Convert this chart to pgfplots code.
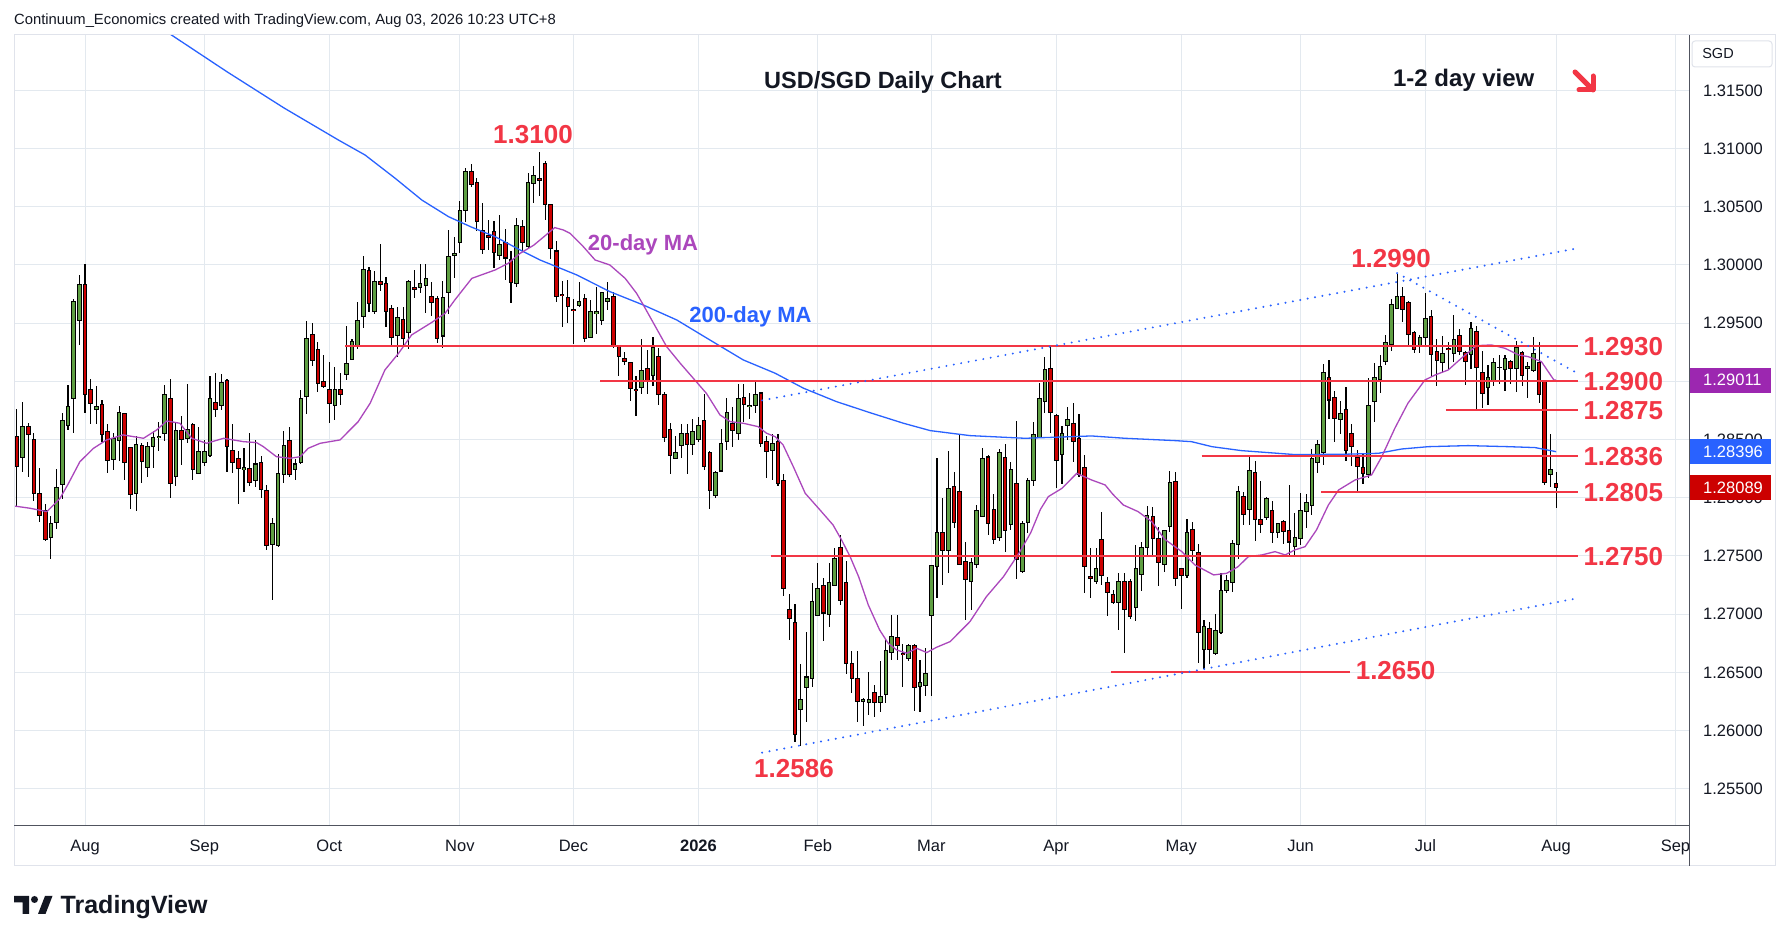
\documentclass[border=0pt]{standalone}
\usepackage{fontspec}
\setmainfont{Liberation Sans}
\usepackage{pgfplots}
\pgfplotsset{compat=1.18}
\usepackage{pgfplotstable}

\definecolor{tvtext}{RGB}{19,23,34}
\definecolor{tvgrid}{RGB}{227,233,239}
\definecolor{tvframe}{RGB}{224,227,235}
\definecolor{tvsep}{RGB}{80,83,94}
\definecolor{upc}{RGB}{94,158,66}
\definecolor{dnc}{RGB}{204,0,0}
\definecolor{lvl}{RGB}{242,54,69}
\definecolor{tvblue}{RGB}{41,98,255}
\definecolor{tvpurple}{RGB}{171,71,188}
\definecolor{boxpurple}{RGB}{156,39,176}
\definecolor{boxred}{RGB}{204,0,0}

\pgfplotstableread{
i o h l c
-11 1.2835 1.2882 1.2822 1.2861
-6 1.2766 1.2784 1.2747 1.2778
-5 1.2779 1.2825 1.2773 1.2809
-4 1.2811 1.2873 1.2799 1.2866
-3 1.2862 1.2897 1.2858 1.2878
-2 1.2885 1.2971 1.2856 1.2969
-1 1.2952 1.2991 1.2931 1.2983
2 1.2876 1.2896 1.2863 1.2878
5 1.2833 1.2856 1.2824 1.2851
6 1.2849 1.2879 1.2832 1.2873
9 1.2804 1.2853 1.2789 1.2846
11 1.2826 1.2848 1.2818 1.2844
12 1.2844 1.2857 1.2826 1.2852
13 1.2852 1.2865 1.2840 1.2853
14 1.2855 1.2897 1.2849 1.2889
16 1.2818 1.2865 1.2810 1.2858
18 1.2851 1.2898 1.2847 1.2859
20 1.2821 1.2861 1.2820 1.2840
21 1.2830 1.2850 1.2827 1.2840
22 1.2836 1.2905 1.2835 1.2885
24 1.2879 1.2906 1.2875 1.2899
28 1.2824 1.2843 1.2805 1.2826
30 1.2815 1.2850 1.2809 1.2829
33 1.2760 1.2783 1.2712 1.2778
34 1.2759 1.2838 1.2758 1.2821
35 1.2820 1.2857 1.2813 1.2845
37 1.2824 1.2833 1.2815 1.2829
38 1.2830 1.2893 1.2829 1.2885
39 1.2887 1.2952 1.2872 1.2937
44 1.2879 1.2912 1.2867 1.2893
46 1.2906 1.2948 1.2901 1.2915
47 1.2919 1.2936 1.2918 1.2934
48 1.2930 1.2968 1.2928 1.2952
49 1.2956 1.3008 1.2946 1.2996
51 1.2960 1.2995 1.2958 1.2986
55 1.2939 1.2964 1.2921 1.2955
57 1.2942 1.2987 1.2928 1.2986
59 1.2981 1.3001 1.2976 1.2984
60 1.2982 1.3001 1.2959 1.2988
63 1.2939 1.2986 1.2929 1.2972
64 1.2976 1.3030 1.2958 1.3007
65 1.3008 1.3024 1.2989 1.3010
66 1.3019 1.3055 1.3010 1.3047
67 1.3047 1.3083 1.3037 1.3080
73 1.3008 1.3043 1.3004 1.3018
76 1.2984 1.3040 1.2981 1.3034
78 1.3016 1.3079 1.3014 1.3071
79 1.3070 1.3085 1.3053 1.3077
87 1.2965 1.2985 1.2964 1.2969
89 1.2938 1.2970 1.2937 1.2960
90 1.2958 1.2981 1.2941 1.2960
91 1.2952 1.2977 1.2948 1.2976
92 1.2969 1.2985 1.2961 1.2971
98 1.2895 1.2936 1.2889 1.2909
100 1.2905 1.2938 1.2896 1.2929
104 1.2834 1.2853 1.2833 1.2839
105 1.2845 1.2863 1.2834 1.2855
107 1.2846 1.2868 1.2837 1.2857
108 1.2850 1.2869 1.2848 1.2862
111 1.2802 1.2823 1.2800 1.2822
112 1.2823 1.2859 1.2822 1.2847
113 1.2848 1.2886 1.2841 1.2873
115 1.2855 1.2898 1.2850 1.2885
117 1.2878 1.2890 1.2868 1.2879
118 1.2879 1.2900 1.2873 1.2889
121 1.2841 1.2855 1.2815 1.2847
126 1.2618 1.2657 1.2587 1.2627
127 1.2637 1.2685 1.2607 1.2646
128 1.2645 1.2727 1.2637 1.2711
129 1.2699 1.2744 1.2698 1.2722
131 1.2700 1.2744 1.2689 1.2727
132 1.2725 1.2757 1.2724 1.2748
137 1.2625 1.2628 1.2604 1.2627
138 1.2624 1.2650 1.2613 1.2627
140 1.2624 1.2660 1.2616 1.2629
141 1.2631 1.2678 1.2624 1.2669
142 1.2667 1.2699 1.2661 1.2681
145 1.2662 1.2674 1.2660 1.2673
147 1.2638 1.2661 1.2616 1.2641
148 1.2639 1.2671 1.2630 1.2649
149 1.2699 1.2742 1.2630 1.2742
150 1.2741 1.2834 1.2714 1.2770
152 1.2755 1.2840 1.2735 1.2808
156 1.2728 1.2748 1.2704 1.2744
157 1.2743 1.2794 1.2740 1.2789
158 1.2784 1.2843 1.2784 1.2834
161 1.2766 1.2842 1.2763 1.2839
163 1.2777 1.2831 1.2772 1.2824
165 1.2737 1.2780 1.2735 1.2778
166 1.2779 1.2817 1.2770 1.2815
167 1.2815 1.2865 1.2810 1.2854
168 1.2852 1.2899 1.2851 1.2885
169 1.2883 1.2921 1.2873 1.2910
172 1.2837 1.2862 1.2812 1.2855
173 1.2862 1.2878 1.2850 1.2867
178 1.2728 1.2757 1.2726 1.2739
182 1.2710 1.2735 1.2686 1.2728
185 1.2706 1.2759 1.2694 1.2739
186 1.2734 1.2762 1.2720 1.2757
187 1.2757 1.2793 1.2751 1.2785
190 1.2743 1.2772 1.2736 1.2772
191 1.2775 1.2823 1.2771 1.2813
194 1.2733 1.2782 1.2731 1.2770
197 1.2670 1.2695 1.2653 1.2689
199 1.2666 1.2700 1.2665 1.2686
200 1.2684 1.2735 1.2683 1.2720
201 1.2720 1.2734 1.2718 1.2729
202 1.2727 1.2764 1.2719 1.2761
203 1.2760 1.2810 1.2747 1.2805
205 1.2790 1.2837 1.2777 1.2823
208 1.2783 1.2801 1.2781 1.2799
210 1.2770 1.2778 1.2765 1.2778
213 1.2758 1.2787 1.2750 1.2766
214 1.2765 1.2804 1.2759 1.2789
215 1.2788 1.2803 1.2774 1.2796
216 1.2793 1.2842 1.2785 1.2834
217 1.2830 1.2850 1.2821 1.2846
218 1.2839 1.2915 1.2828 1.2908
221 1.2867 1.2883 1.2855 1.2872
226 1.2820 1.2903 1.2817 1.2879
227 1.2883 1.2916 1.2865 1.2903
228 1.2902 1.2923 1.2890 1.2913
229 1.2917 1.2940 1.2914 1.2933
230 1.2932 1.2971 1.2926 1.2966
231 1.2963 1.2992 1.2962 1.2973
235 1.2930 1.2940 1.2924 1.2938
236 1.2938 1.2976 1.2930 1.2954
239 1.2916 1.2939 1.2908 1.2924
241 1.2924 1.2957 1.2917 1.2936
244 1.2923 1.2951 1.2911 1.2945
247 1.2895 1.2914 1.2880 1.2903
248 1.2901 1.2920 1.2896 1.2916
249 1.2912 1.2923 1.2898 1.2912
250 1.2910 1.2923 1.2892 1.2920
252 1.2911 1.2935 1.2891 1.2929
254 1.2911 1.2917 1.2886 1.2913
255 1.2909 1.2938 1.2908 1.2924
258 1.2820 1.2855 1.2809 1.2824
}\upt

\pgfplotstableread{
i o h l c
-12 1.2853 1.2876 1.2792 1.2827
-10 1.2861 1.2864 1.2818 1.2854
-9 1.2850 1.2856 1.2797 1.2804
-8 1.2804 1.2826 1.2779 1.2785
-7 1.2789 1.2795 1.2763 1.2764
0 1.2983 1.3001 1.2873 1.2889
1 1.2893 1.2902 1.2863 1.2881
3 1.2880 1.2884 1.2848 1.2854
4 1.2857 1.2863 1.2821 1.2832
7 1.2872 1.2873 1.2815 1.2830
8 1.2843 1.2844 1.2790 1.2803
10 1.2845 1.2847 1.2813 1.2831
15 1.2885 1.2902 1.2800 1.2812
17 1.2858 1.2870 1.2828 1.2850
19 1.2863 1.2864 1.2815 1.2824
23 1.2882 1.2907 1.2869 1.2876
25 1.2901 1.2902 1.2822 1.2844
26 1.2841 1.2863 1.2821 1.2830
27 1.2834 1.2840 1.2795 1.2825
29 1.2825 1.2856 1.2810 1.2813
31 1.2830 1.2836 1.2800 1.2807
32 1.2806 1.2811 1.2755 1.2759
36 1.2849 1.2861 1.2818 1.2820
40 1.2940 1.2950 1.2913 1.2918
41 1.2927 1.2934 1.2891 1.2898
42 1.2900 1.2923 1.2894 1.2896
43 1.2893 1.2917 1.2864 1.2881
45 1.2893 1.2907 1.2880 1.2889
50 1.2995 1.2998 1.2960 1.2967
52 1.2986 1.3018 1.2978 1.2983
53 1.2984 1.2990 1.2947 1.2960
54 1.2963 1.2966 1.2930 1.2938
56 1.2953 1.2964 1.2930 1.2937
58 1.2981 1.2996 1.2972 1.2979
61 1.2973 1.2985 1.2956 1.2968
62 1.2971 1.2973 1.2933 1.2937
68 1.3080 1.3087 1.3067 1.3069
69 1.3071 1.3075 1.3029 1.3037
70 1.3030 1.3053 1.3009 1.3013
71 1.3025 1.3039 1.3013 1.3024
72 1.3029 1.3038 1.2997 1.3011
74 1.3019 1.3031 1.2987 1.3006
75 1.3005 1.3012 1.2967 1.2985
77 1.3033 1.3039 1.3011 1.3019
80 1.3074 1.3097 1.3059 1.3073
81 1.3087 1.3089 1.3039 1.3052
82 1.3052 1.3052 1.3005 1.3014
83 1.3012 1.3021 1.2968 1.2973
84 1.2975 1.2986 1.2947 1.2974
85 1.2972 1.2987 1.2950 1.2964
86 1.2962 1.2971 1.2932 1.2961
88 1.2971 1.2975 1.2934 1.2937
93 1.2973 1.2977 1.2929 1.2930
94 1.2930 1.2931 1.2905 1.2921
95 1.2920 1.2925 1.2914 1.2917
96 1.2916 1.2917 1.2883 1.2894
97 1.2893 1.2905 1.2870 1.2892
99 1.2911 1.2927 1.2889 1.2901
101 1.2921 1.2929 1.2880 1.2889
102 1.2889 1.2891 1.2848 1.2852
103 1.2859 1.2864 1.2820 1.2836
106 1.2855 1.2863 1.2820 1.2846
109 1.2866 1.2889 1.2824 1.2827
110 1.2839 1.2840 1.2790 1.2806
114 1.2864 1.2878 1.2844 1.2858
116 1.2886 1.2898 1.2865 1.2880
119 1.2890 1.2891 1.2844 1.2847
120 1.2848 1.2853 1.2817 1.2840
122 1.2848 1.2855 1.2810 1.2812
123 1.2815 1.2820 1.2716 1.2722
124 1.2704 1.2717 1.2678 1.2696
125 1.2693 1.2709 1.2590 1.2597
130 1.2725 1.2731 1.2677 1.2701
133 1.2757 1.2768 1.2708 1.2712
134 1.2727 1.2746 1.2649 1.2658
135 1.2658 1.2668 1.2632 1.2645
136 1.2645 1.2668 1.2607 1.2625
139 1.2633 1.2639 1.2612 1.2624
143 1.2680 1.2699 1.2661 1.2673
144 1.2666 1.2674 1.2637 1.2665
146 1.2673 1.2674 1.2617 1.2637
151 1.2770 1.2800 1.2725 1.2755
153 1.2810 1.2822 1.2774 1.2779
154 1.2805 1.2854 1.2742 1.2743
155 1.2745 1.2762 1.2695 1.2730
159 1.2835 1.2837 1.2768 1.2778
160 1.2790 1.2803 1.2760 1.2764
162 1.2835 1.2846 1.2753 1.2772
164 1.2812 1.2866 1.2730 1.2747
170 1.2911 1.2931 1.2856 1.2873
171 1.2871 1.2872 1.2808 1.2832
174 1.2864 1.2881 1.2831 1.2848
175 1.2851 1.2872 1.2818 1.2820
176 1.2826 1.2837 1.2718 1.2741
177 1.2732 1.2757 1.2714 1.2731
179 1.2764 1.2788 1.2725 1.2733
180 1.2727 1.2732 1.2698 1.2719
181 1.2717 1.2721 1.2709 1.2710
183 1.2728 1.2735 1.2667 1.2704
184 1.2728 1.2730 1.2696 1.2698
188 1.2784 1.2792 1.2751 1.2765
189 1.2765 1.2775 1.2724 1.2744
192 1.2814 1.2822 1.2724 1.2731
193 1.2739 1.2740 1.2704 1.2733
195 1.2773 1.2779 1.2746 1.2755
196 1.2753 1.2760 1.2658 1.2684
198 1.2688 1.2693 1.2657 1.2670
204 1.2801 1.2805 1.2777 1.2786
206 1.2822 1.2832 1.2763 1.2781
207 1.2781 1.2814 1.2770 1.2777
209 1.2789 1.2797 1.2761 1.2770
211 1.2780 1.2781 1.2760 1.2771
212 1.2772 1.2811 1.2750 1.2762
219 1.2903 1.2918 1.2868 1.2884
220 1.2886 1.2892 1.2848 1.2868
222 1.2876 1.2895 1.2832 1.2841
223 1.2855 1.2863 1.2827 1.2844
224 1.2835 1.2841 1.2805 1.2827
225 1.2826 1.2838 1.2812 1.2821
232 1.2973 1.2981 1.2951 1.2962
233 1.2968 1.2969 1.2930 1.2940
234 1.2942 1.2943 1.2924 1.2927
237 1.2956 1.2961 1.2905 1.2923
238 1.2926 1.2936 1.2896 1.2918
240 1.2928 1.2934 1.2911 1.2927
242 1.2939 1.2945 1.2923 1.2926
243 1.2925 1.2926 1.2897 1.2917
245 1.2943 1.2948 1.2875 1.2912
246 1.2908 1.2926 1.2877 1.2890
251 1.2917 1.2918 1.2898 1.2911
253 1.2925 1.2926 1.2896 1.2905
256 1.2916 1.2934 1.2881 1.2889
257 1.2900 1.2901 1.2811 1.2813
259 1.2812 1.2822 1.2791 1.2809
}\dnt

\pgfplotsset{
  candle/.style 2 args={draw=none, mark=none, forget plot,
    error bars/.cd, y dir=both, y explicit, error mark=none,
    error bar style={draw=#1, line width=#2}},
}

\begin{document}
\begin{tikzpicture}[x=1pt,y=1pt]
\path[use as bounding box, fill=white] (0,0) rectangle (1789,941);

\begin{axis}[
  at={(14pt,115pt)}, anchor=south west, scale only axis,
  width=1675pt, height=791pt,
  xmin=-12.5, xmax=282.39, ymin=1.25180, ymax=1.31976,
  axis line style={draw=none}, tick style={draw=none}, major tick length=0pt,
  xtick={0,21,43,66,86,108,129,149,171,193,214,236,259,280},
  xticklabels={Aug,Sep,Oct,Nov,Dec,{\bfseries 2026},Feb,Mar,Apr,May,Jun,Jul,Aug,Sep},
  ytick={1.255,1.260,1.265,1.270,1.275,1.280,1.285,1.290,1.295,1.300,1.305,1.310,1.315},
  xmajorgrids, ymajorgrids, grid style={tvgrid, line width=1pt},
  yticklabel pos=right,
  scaled y ticks=false,
  /pgf/number format/fixed, /pgf/number format/fixed zerofill,
  /pgf/number format/precision=5, /pgf/number format/assume math mode=true,
  /pgf/number format/1000 sep={},
  yticklabel style={anchor=west, xshift=14pt, inner sep=0pt,
    font=\fontsize{16.5pt}{19pt}\selectfont, text=tvtext},
  xticklabel style={anchor=base, yshift=-25.5pt, inner sep=0pt,
    font=\fontsize{16.5pt}{19pt}\selectfont, text=tvtext},
  clip=true,
]

% wicks
\addplot[candle={black}{1.1pt}]
  table[x=i, y expr={0.5*(\thisrow{h}+\thisrow{l})}, y error expr={0.5*(\thisrow{h}-\thisrow{l})}] {\upt};
\addplot[candle={black}{1.1pt}]
  table[x=i, y expr={0.5*(\thisrow{h}+\thisrow{l})}, y error expr={0.5*(\thisrow{h}-\thisrow{l})}] {\dnt};
% body outlines
\addplot[candle={black}{4.6pt}]
  table[x=i, y expr={0.5*(\thisrow{o}+\thisrow{c})}, y error expr={0.5*abs(\thisrow{c}-\thisrow{o})+0.000045}] {\upt};
\addplot[candle={black}{4.6pt}]
  table[x=i, y expr={0.5*(\thisrow{o}+\thisrow{c})}, y error expr={0.5*abs(\thisrow{c}-\thisrow{o})+0.000045}] {\dnt};
% body fills
\addplot[candle={upc}{2.6pt}]
  table[x=i, y expr={0.5*(\thisrow{o}+\thisrow{c})}, y error expr={max(0.5*abs(\thisrow{c}-\thisrow{o})-0.000043,0)}] {\upt};
\addplot[candle={dnc}{2.6pt}]
  table[x=i, y expr={0.5*(\thisrow{o}+\thisrow{c})}, y error expr={max(0.5*abs(\thisrow{c}-\thisrow{o})-0.000043,0)}] {\dnt};

% 200-day MA
\addplot[tvblue, line width=1.3pt, mark=none] coordinates {
(12,1.3208) (25,1.3166) (35,1.3135) (44.6,1.31074) (49.3,1.30945) (54.6,1.30745)
(59.3,1.30558) (64,1.30415) (68.1,1.30324) (72.2,1.30243) (76.6,1.30129) (80.1,1.30043)
(86.6,1.29914) (92.4,1.29771) (98.3,1.29656) (104.2,1.29527) (110,1.29356) (115.9,1.29184)
(121.5,1.29070) (126.5,1.28941) (132.3,1.28826) (138.2,1.28731) (144.1,1.28640) (148.8,1.28577)
(155.8,1.28534) (165.5,1.28511) (177.2,1.28531) (183.1,1.28511) (191.9,1.28491) (194.8,1.28482)
(198.4,1.28439) (203.6,1.28405) (213,1.28371) (221.8,1.28374) (227.7,1.28382) (231.8,1.28419)
(236.5,1.28439) (243.5,1.28448) (250.6,1.28439) (255.3,1.28431) (259,1.28396)};

% 20-day MA
\addplot[tvpurple, line width=1.3pt, mark=none] coordinates {
(-12.6,1.27930) (-9.7,1.27910) (-6.7,1.27881) (-4.4,1.27995) (-2.9,1.28124) (-0.9,1.28310)
(1.5,1.28425) (3.8,1.28497) (6.7,1.28540) (10.3,1.28511) (12.6,1.28582) (14.4,1.28660)
(16.7,1.28640) (18.8,1.28511) (21.4,1.28468) (24.4,1.28511) (27.9,1.28482) (30.2,1.28474)
(31.4,1.28439) (33.7,1.28353) (36.1,1.28339) (37.9,1.28353) (39.3,1.28425) (41.4,1.28468)
(44.9,1.28497) (48.1,1.28654) (50.2,1.28812) (52.8,1.29098) (55.2,1.29241) (57.5,1.29399)
(61.0,1.29505) (63.4,1.29585) (65.1,1.29699) (68.1,1.29885) (72.2,1.29957) (74.5,1.30014)
(76.6,1.30100) (79,1.3017) (80.8,1.30243) (82.7,1.30321) (84.2,1.30301) (85.4,1.30272)
(87.5,1.3017) (89.8,1.30043) (92.4,1.30000) (95.1,1.29885) (97.1,1.29757) (98.3,1.29656)
(100.1,1.29499) (102.4,1.29298) (104.8,1.29155) (107.1,1.29026) (109.4,1.28897) (111.8,1.28711)
(113.6,1.28654) (115.9,1.28640) (118.5,1.28611) (120.0,1.28554) (121.5,1.28525) (122.9,1.28454)
(124.7,1.28267) (126.8,1.28038) (129.4,1.27895) (131.7,1.27766) (133.2,1.27637) (134.7,1.27494)
(136.2,1.27322) (137.9,1.27079) (139.9,1.26864) (141.4,1.26750) (142.9,1.26692) (144.7,1.26664)
(146.4,1.26707) (148.2,1.26670) (149.9,1.26715) (152.3,1.26764) (155.8,1.26936) (158.7,1.27151)
(161.7,1.27322) (164.6,1.27537) (166.5,1.27700) (168.2,1.27900) (169.6,1.28010) (172,1.28081)
(174.6,1.28210) (177.2,1.28153) (179.6,1.28110) (180.9,1.28033) (182.8,1.27938) (185.4,1.27881)
(187.8,1.27795) (190.1,1.27643) (193.1,1.27537) (195.4,1.27423) (198.7,1.27337) (201,1.27351)
(203,1.27408) (204.8,1.27494) (207.2,1.27509) (209.5,1.27537) (211.3,1.27509) (213,1.27552)
(214.8,1.27580) (216.8,1.27723) (218.9,1.27938) (220.7,1.28067) (223.6,1.28153) (226.5,1.28196)
(228.3,1.28353) (230.6,1.28597) (232.9,1.28812) (235.9,1.29012) (237.7,1.29055) (240,1.29098)
(242.3,1.29198) (245,1.29307) (247.6,1.29313) (250,1.29284) (252.4,1.29227) (254.1,1.29212)
(256.4,1.29170) (258.6,1.29012) (259,1.29011)};

% horizontal levels
\addplot[lvl, line width=2pt, mark=none] coordinates {(45.8,1.2930) (262.8,1.2930)};
\addplot[lvl, line width=2pt, mark=none] coordinates {(90.7,1.2900) (262.8,1.2900)};
\addplot[lvl, line width=2pt, mark=none] coordinates {(239.6,1.2875) (262.8,1.2875)};
\addplot[lvl, line width=2pt, mark=none] coordinates {(196.6,1.2836) (262.8,1.2836)};
\addplot[lvl, line width=2pt, mark=none] coordinates {(217.6,1.2805) (262.8,1.2805)};
\addplot[lvl, line width=2pt, mark=none] coordinates {(120.8,1.2750) (262.8,1.2750)};
\addplot[lvl, line width=2pt, mark=none] coordinates {(180.6,1.2650) (222.7,1.2650)};

% dotted trend lines
\addplot[tvblue, line width=2.2pt, line cap=round, dash pattern=on 0pt off 7.5pt, mark=none]
  coordinates {(119.2,1.28837) (262.6,1.30142)};
\addplot[tvblue, line width=2.2pt, line cap=round, dash pattern=on 0pt off 7.5pt, mark=none]
  coordinates {(119.2,1.25810) (262.6,1.27135)};
\addplot[tvblue, line width=2.2pt, line cap=round, dash pattern=on 0pt off 7.5pt, mark=none]
  coordinates {(231,1.2993) (263.3,1.29055)};
\end{axis}

% frame and separators
\draw[tvframe, line width=1pt] (14,75) rectangle (1775,906);
\draw[tvsep, line width=1pt] (1689,75) -- (1689,906);
\draw[tvsep, line width=1pt] (14,115) -- (1689,115);

% header
\node[anchor=base west, inner sep=0pt, text=tvtext, font=\fontsize{14.8pt}{17pt}\selectfont]
  at (14,916) {Continuum\_Economics created with TradingView.com, Aug 03, 2026 10:23 UTC+8};

% titles
\node[anchor=base, inner sep=0pt, text=tvtext, font=\fontsize{23.5pt}{27pt}\selectfont\bfseries]
  at (883,852.6) {USD/SGD Daily Chart};
\node[anchor=base, inner sep=0pt, text=tvtext, font=\fontsize{24pt}{27pt}\selectfont\bfseries]
  at (1463.7,854.3) {1-2 day view};
\draw[lvl, line width=5pt, line cap=round, line join=round] (1575,869) -- (1593,851);
\draw[lvl, line width=5pt, line cap=round, line join=round] (1579,851) -- (1593,851) -- (1593,865);

% MA labels
\node[anchor=base, inner sep=0pt, text=tvpurple, font=\fontsize{22pt}{25pt}\selectfont\bfseries]
  at (643,690.1) {20-day MA};
\node[anchor=base, inner sep=0pt, text=tvblue, font=\fontsize{22pt}{25pt}\selectfont\bfseries]
  at (750.5,618.1) {200-day MA};

% level labels
\begin{scope}[every node/.style={inner sep=0pt, text=lvl, font=\fontsize{26pt}{29pt}\selectfont\bfseries}]
\node[anchor=base] at (533,797.1) {1.3100};
\node[anchor=base] at (1391,673.7) {1.2990};
\node[anchor=base west] at (1583.3,585.2) {1.2930};
\node[anchor=base west] at (1583.3,550.3) {1.2900};
\node[anchor=base west] at (1583.3,521.2) {1.2875};
\node[anchor=base west] at (1583.3,475.8) {1.2836};
\node[anchor=base west] at (1583.3,439.7) {1.2805};
\node[anchor=base west] at (1583.3,375.7) {1.2750};
\node[anchor=base west] at (1355.6,261.7) {1.2650};
\node[anchor=base] at (794,163.7) {1.2586};
\end{scope}

% price scale labels
\fill[boxpurple] (1690,548.3) rectangle (1771,573.3);
\fill[tvblue] (1690,477) rectangle (1771,502);
\fill[boxred] (1690,441) rectangle (1771,466);
\begin{scope}[every node/.style={anchor=west, inner sep=0pt, text=white, font=\fontsize{16.5pt}{19pt}\selectfont}]
\node at (1703,560.8) {1.29011};
\node at (1703,489.5) {1.28396};
\node at (1703,453.5) {1.28089};
\end{scope}

% currency box
\draw[tvframe, line width=1pt, rounded corners=3pt] (1692,874) rectangle (1772,900);
\node[inner sep=0pt, text=tvtext, font=\fontsize{14.5pt}{17pt}\selectfont] at (1718,887) {SGD};

% TradingView logo
\fill[tvtext] (14,45) -- (29,45) -- (29,27) -- (22.5,27) -- (22.5,38.5) -- (14,38.5) -- cycle;
\fill[tvtext] (34.5,41.5) circle (3.5);
\fill[tvtext] (38,27) -- (45,45) -- (52.5,45) -- (45.5,27) -- cycle;
\node[anchor=base west, inner sep=0pt, text=tvtext, font=\fontsize{25pt}{28pt}\selectfont\bfseries]
  at (60.5,27) {TradingView};
\end{tikzpicture}
\end{document}
